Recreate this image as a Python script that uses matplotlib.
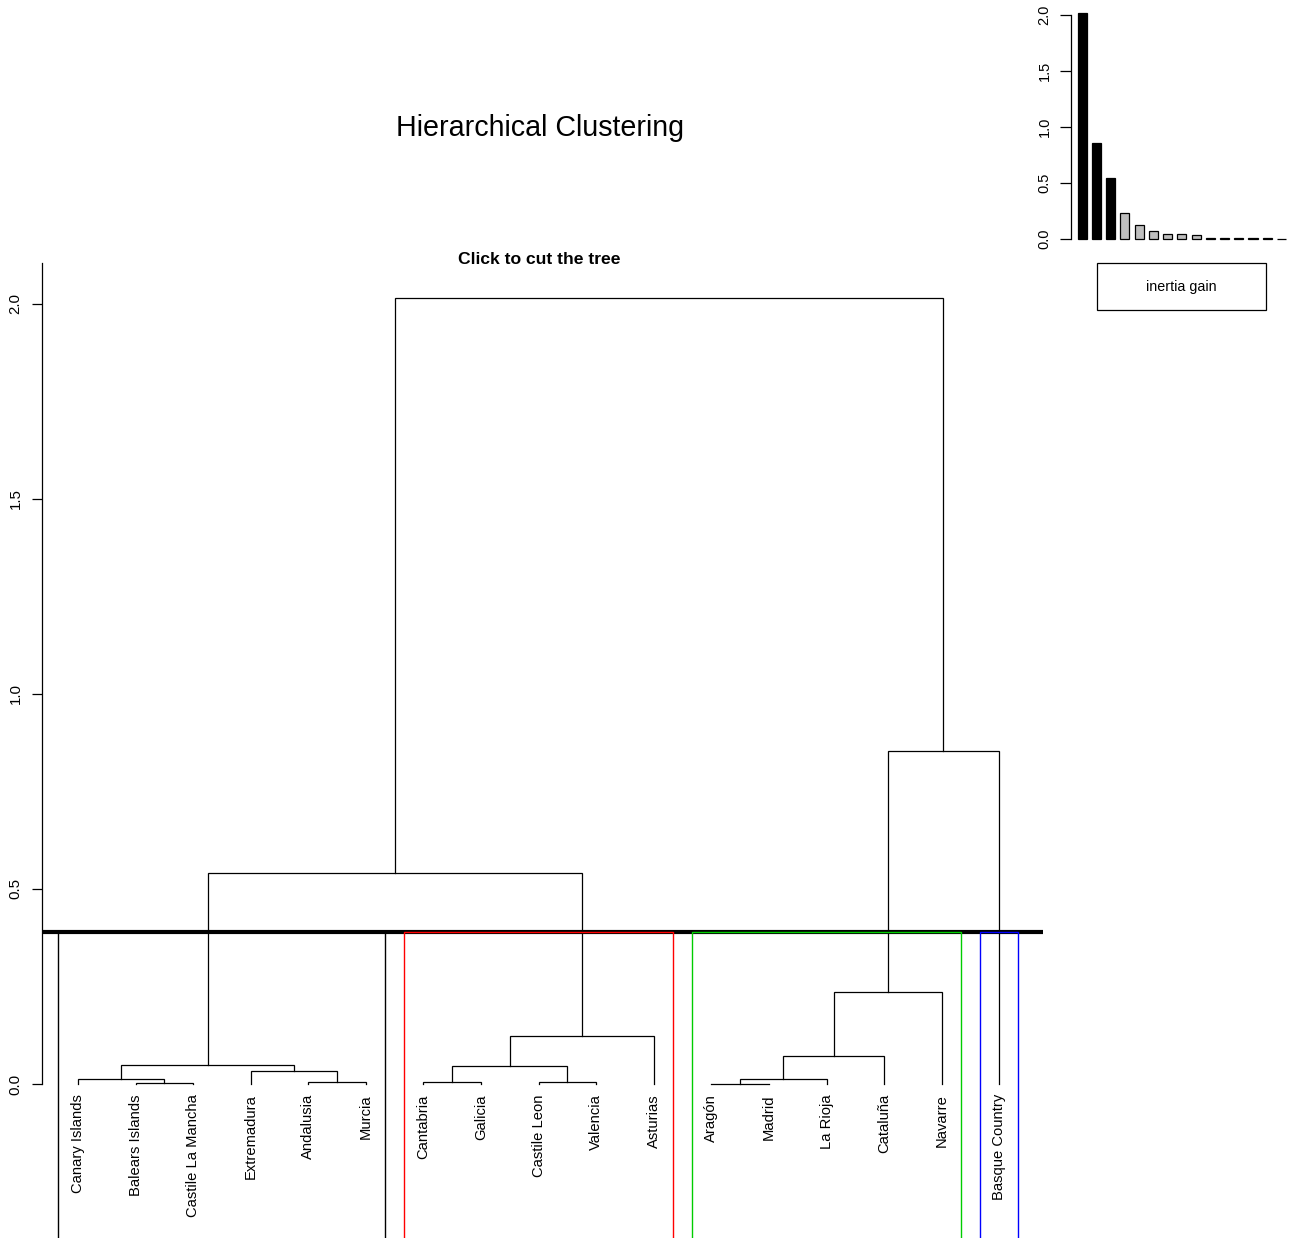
import matplotlib
matplotlib.use("Agg")
import matplotlib.pyplot as plt
from matplotlib.patches import Rectangle

plt.rcParams["font.family"] = ["Liberation Sans", "DejaVu Sans"]

# leaves in display order
LABELS = [
    "Canary Islands", "Balears Islands", "Castile La Mancha", "Extremadura",
    "Andalusia", "Murcia", "Cantabria", "Galicia", "Castile Leon", "Valencia",
    "Asturias", "Aragón", "Madrid", "La Rioja", "Cataluña", "Navarre",
    "Basque Country",
]

# hclust-style merges: negative = leaf (1-based), positive = earlier merge
MERGE = [
    (-12, -13), (-2, -3), (-7, -8), (-9, -10), (-5, -6), (-1, 2), (1, -14),
    (-4, 5), (3, 4), (6, 8), (7, -15), (9, -11), (11, -16), (10, 12),
    (13, -17), (14, 15),
]
HEIGHTS = [
    0.001, 0.002, 0.005, 0.005, 0.006, 0.012, 0.012, 0.034, 0.045, 0.049,
    0.072, 0.124, 0.236, 0.541, 0.853, 2.015,
]

# clusters after cutting the tree (first leaf, last leaf, colour)
CLUSTERS = [(1, 6, "black"), (7, 11, "#FF0000"), (12, 16, "#00CD00"), (17, 17, "#0000FF")]
CUT_HEIGHT = 0.39

N_GAIN_BARS = 15
N_BLACK_BARS = 3

W, H = 1295, 1238
fig = plt.figure(figsize=(W / 100, H / 100), dpi=100)

# dendrogram panel
ax = fig.add_axes([42 / W, 0, 1001 / W, (H - 263) / H])
ymin = -(H - 1084) / 390
ax.set_xlim(0.375, 17.76)
ax.set_ylim(ymin, 2.105)

pos = {}
top = {}
for k, (a, b) in enumerate(MERGE, start=1):
    xs, ys = [], []
    for c in (a, b):
        if c < 0:
            xs.append(-c)
            ys.append(0.0)
        else:
            xs.append(pos[c])
            ys.append(top[c])
    h = HEIGHTS[k - 1]
    ax.plot([xs[0], xs[0], xs[1], xs[1]], [ys[0], h, h, ys[1]],
            color="black", lw=0.9, solid_joinstyle="miter")
    pos[k] = (xs[0] + xs[1]) / 2
    top[k] = h

for i, lab in enumerate(LABELS, start=1):
    ax.text(i, -0.026, lab, rotation=90, ha="center", va="top", fontsize=10.6)

ax.plot([0.375, 17.76], [CUT_HEIGHT, CUT_HEIGHT], color="black", lw=3,
        clip_on=False, solid_capstyle="butt")
for first, last, col in CLUSTERS:
    x0, x1 = first - 0.34, last + 0.33
    ax.plot([x0, x0, x1, x1], [ymin, CUT_HEIGHT, CUT_HEIGHT, ymin],
            color=col, lw=1.0, clip_on=False)

for s in ("top", "right", "bottom"):
    ax.spines[s].set_visible(False)
ax.spines["left"].set_bounds(0, 2.105)
ax.spines["left"].set_linewidth(0.9)
ax.set_xticks([])
ax.set_yticks([0.0, 0.5, 1.0, 1.5, 2.0])
ax.set_yticklabels(["0.0", "0.5", "1.0", "1.5", "2.0"], rotation=90, va="center")
ax.tick_params(axis="y", length=7, width=0.9, labelsize=10.8, pad=7)

fig.text(540 / W, 1 - 128 / H, "Hierarchical Clustering", ha="center", va="center", fontsize=20.6)
fig.text(539 / W, 1 - 259 / H, "Click to cut the tree", ha="center", va="center",
         fontsize=12.6, fontweight="bold")

# inertia gain barplot
gain = sorted(HEIGHTS, reverse=True)[:N_GAIN_BARS]
bx = fig.add_axes([1071 / W, (H - 239) / H, 219 / W, 224 / H])
colors = ["black"] * N_BLACK_BARS + ["#BEBEBE"] * (N_GAIN_BARS - N_BLACK_BARS)
bars = bx.bar(range(N_GAIN_BARS), gain, width=0.64, color=colors,
              edgecolor="black", linewidth=0.9)
for b in bars:
    b.set_clip_on(False)
bx.set_xlim(-0.786, 14.6)
bx.set_ylim(0, 2.0)
for s in ("top", "right", "bottom"):
    bx.spines[s].set_visible(False)
bx.spines["left"].set_linewidth(0.9)
bx.set_xticks([])
bx.set_yticks([0.0, 0.5, 1.0, 1.5, 2.0])
bx.set_yticklabels(["0.0", "0.5", "1.0", "1.5", "2.0"], rotation=90, va="center")
bx.tick_params(axis="y", length=8, width=0.9, labelsize=10.5, pad=6)

fig.add_artist(Rectangle((1097 / W, 1 - 310 / H), 169 / W, 47 / H,
                         transform=fig.transFigure, fill=False, lw=0.9))
fig.text(1181 / W, 1 - 287 / H, "inertia gain", ha="center", va="center", fontsize=10.3)

fig.savefig("out.png", dpi=100)
